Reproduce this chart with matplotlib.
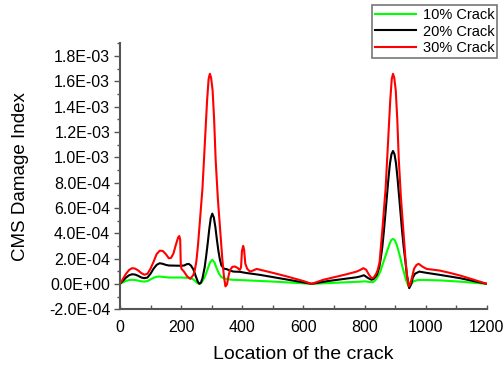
import matplotlib
matplotlib.use("Agg")
import matplotlib.pyplot as plt
from matplotlib.ticker import MultipleLocator, FuncFormatter

plt.rcParams['font.family'] = ['Liberation Sans', 'DejaVu Sans']

# 10% crack
x_10 = [0, 10, 20, 30, 40, 50, 60, 70, 80, 90, 100, 110, 120, 130, 140, 160, 200, 220,
        237, 245, 252, 260, 266, 272, 280, 288, 295, 302, 309, 316, 324, 331, 340, 353,
        370, 413, 500, 580, 627, 700, 785, 800, 815, 828, 836, 844, 852, 860, 867, 874,
        881, 887, 893, 899, 905, 911, 917, 923, 930, 937, 945, 952, 960, 975, 990, 1050,
        1120, 1200]
y_10 = [0, 1.2e-5, 2.3e-5, 3.0e-5, 3.2e-5, 3.0e-5, 2.5e-5, 2.0e-5, 1.8e-5, 2.2e-5, 3.5e-5,
        4.8e-5, 5.6e-5, 5.8e-5, 5.5e-5, 5.0e-5, 5.0e-5, 4.8e-5, 4.0e-5, 2.5e-5, 8e-6, 0,
        8e-6, 3.0e-5, 7.0e-5, 1.25e-4, 1.7e-4, 1.9e-4, 1.7e-4, 1.25e-4, 8.0e-5, 5.5e-5,
        4.3e-5, 3.6e-5, 3.2e-5, 2.8e-5, 1.8e-5, 7e-6, 0, 8e-6, 1.7e-5, 2.0e-5, 1.5e-5,
        1.3e-5, 3.0e-5, 6.0e-5, 1.0e-4, 1.6e-4, 2.1e-4, 2.6e-4, 3.1e-4, 3.45e-4, 3.55e-4,
        3.45e-4, 3.1e-4, 2.6e-4, 2.05e-4, 1.4e-4, 8.0e-5, 2.0e-5, -2.5e-5, -5e-6, 2.0e-5,
        3.0e-5, 3.1e-5, 2.7e-5, 1.6e-5, 0]

# 20% crack
x_20 = [0, 10, 20, 30, 40, 50, 60, 70, 80, 90, 100, 110, 120, 130, 140, 150, 160, 180,
        200, 210, 218, 225, 232, 240, 248, 255, 260, 265, 270, 277, 282, 287, 292, 297,
        302, 307, 312, 317, 322, 327, 332, 340, 349, 360, 371, 392, 413, 458, 520, 580,
        627, 680, 730, 774, 785, 798, 812, 823, 830, 840, 848, 853, 858, 863, 868, 873,
        878, 883, 888, 893, 898, 903, 908, 913, 918, 923, 928, 933, 938, 946, 952, 958,
        965, 979, 1000, 1046, 1112, 1160, 1200]
y_20 = [0, 2.5e-5, 5.0e-5, 6.8e-5, 7.6e-5, 7.3e-5, 6.3e-5, 5.0e-5, 4.5e-5, 5.0e-5, 8.0e-5,
        1.2e-4, 1.5e-4, 1.63e-4, 1.58e-4, 1.5e-4, 1.45e-4, 1.44e-4, 1.43e-4, 1.45e-4,
        1.55e-4, 1.58e-4, 1.45e-4, 1.15e-4, 6.0e-5, 1.5e-5, 0, 1.0e-5, 4.5e-5, 1.3e-4,
        2.2e-4, 3.2e-4, 4.3e-4, 5.2e-4, 5.55e-4, 5.25e-4, 4.5e-4, 3.5e-4, 2.6e-4, 1.9e-4,
        1.45e-4, 1.2e-4, 1.16e-4, 1.05e-4, 9.7e-5, 9.5e-5, 8.6e-5, 7.1e-5, 4.5e-5, 2.0e-5,
        0, 2.2e-5, 3.8e-5, 5.2e-5, 5.8e-5, 6.8e-5, 4.5e-5, 3.2e-5, 4.0e-5, 7.0e-5, 1.3e-4,
        2.0e-4, 2.9e-4, 4.1e-4, 5.5e-4, 6.9e-4, 8.3e-4, 9.5e-4, 1.024e-3, 1.05e-3,
        1.024e-3, 9.5e-4, 8.3e-4, 6.9e-4, 5.5e-4, 4.1e-4, 2.9e-4, 1.9e-4, 8.0e-5, -3.4e-5,
        -5e-6, 5.0e-5, 8.0e-5, 9.7e-5, 8.8e-5, 7.1e-5, 4.5e-5, 2.0e-5, 0]

# 30% crack
x_30 = [0, 10, 20, 30, 40, 50, 60, 70, 80, 90, 100, 110, 120, 130, 140, 150, 160, 167,
        175, 183, 190, 194, 197, 199, 201, 210, 220, 230, 240, 245, 250, 255, 260, 270,
        280, 285, 290, 294, 298, 303, 308, 313, 320, 327, 335, 340, 345, 350, 355, 360,
        368, 376, 385, 392, 396, 399, 403, 406, 410, 416, 425, 435, 447, 500, 550, 600,
        627, 665, 700, 740, 774, 786, 796, 805, 815, 823, 830, 838, 843, 849, 859, 869,
        879, 884, 889, 893, 897, 902, 907, 912, 919, 926, 934, 939, 945, 950, 955, 962,
        970, 977, 990, 1003, 1046, 1080, 1112, 1150, 1200]
y_30 = [0, 4.0e-5, 8.0e-5, 1.1e-4, 1.24e-4, 1.2e-4, 1.05e-4, 8.5e-5, 7.2e-5, 8.0e-5,
        1.2e-4, 1.75e-4, 2.35e-4, 2.62e-4, 2.6e-4, 2.35e-4, 2.02e-4, 2.05e-4, 2.4e-4,
        3.1e-4, 3.65e-4, 3.78e-4, 3.5e-4, 1.5e-4, 1.2e-4, 9.5e-5, 5.8e-5, 4.0e-5, 7.0e-5,
        1.1e-4, 1.8e-4, 3.0e-4, 4.5e-4, 7.6e-4, 1.22e-3, 1.45e-3, 1.62e-3, 1.66e-3,
        1.63e-3, 1.53e-3, 1.3e-3, 9.8e-4, 6.8e-4, 4.5e-4, 1.9e-4, 6.0e-5, -2.0e-5, -5e-6,
        6.0e-5, 1.1e-4, 1.35e-4, 1.37e-4, 1.25e-4, 1.1e-4, 1.3e-4, 2.6e-4, 3.0e-4, 2.7e-4,
        1.6e-4, 1.2e-4, 9.7e-5, 1.05e-4, 1.18e-4, 8.7e-5, 5.6e-5, 2.2e-5, 0, 3.2e-5,
        5.2e-5, 7.5e-5, 9.7e-5, 1.1e-4, 1.24e-4, 1.12e-4, 7.0e-5, 4.5e-5, 5.0e-5, 8.0e-5,
        1.1e-4, 1.7e-4, 4.5e-4, 7.6e-4, 1.22e-3, 1.45e-3, 1.62e-3, 1.66e-3, 1.63e-3,
        1.53e-3, 1.3e-3, 9.8e-4, 6.8e-4, 4.5e-4, 1.9e-4, 6.0e-5, -2.0e-5, 0, 5.0e-5,
        1.2e-4, 1.5e-4, 1.58e-4, 1.35e-4, 1.18e-4, 1.05e-4, 8.6e-5, 6.6e-5, 3.8e-5, 0]

y_ticks = [-2e-4, 0, 2e-4, 4e-4, 6e-4, 8e-4, 1e-3, 1.2e-3, 1.4e-3, 1.6e-3, 1.8e-3]

fig = plt.figure(figsize=(5.04, 3.65), dpi=100)
ax = fig.add_axes([0.238, 0.153, 0.728, 0.728])

ax.plot(x_10, y_10, color='#00ff00', lw=1.5, label='10% Crack')
ax.plot(x_20, y_20, color='black', lw=1.5, label='20% Crack')
ax.plot(x_30, y_30, color='#ff0000', lw=1.5, label='30% Crack')

ax.set_xlim(0, 1200)
ax.set_ylim(-2e-4, 1.9e-3)
ax.set_xticks([0, 200, 400, 600, 800, 1000, 1200])
ax.xaxis.set_minor_locator(MultipleLocator(100))
ax.set_yticks(y_ticks)
ax.yaxis.set_minor_locator(MultipleLocator(1e-4))
ax.yaxis.set_major_formatter(FuncFormatter(lambda v, p: f"{v:.1E}"))

for s in ['top', 'right']:
    ax.spines[s].set_visible(False)
for s in ['left', 'bottom']:
    ax.spines[s].set_color('#555555')
    ax.spines[s].set_linewidth(1.5)

ax.tick_params(axis='y', which='major', direction='out', length=4, width=1, color='#555555',
               labelsize=11.5, pad=3)
ax.tick_params(axis='y', which='minor', direction='out', length=2.5, width=1, color='#555555')
ax.tick_params(axis='x', which='both', direction='in', length=3, width=1, color='#555555',
               labelsize=11.5, pad=8)

ax.set_xlabel('Location of the crack', fontsize=14, labelpad=8)
ax.set_ylabel('CMS Damage Index', fontsize=13.5, labelpad=14)

leg = fig.legend(loc='upper right', bbox_to_anchor=(0.987, 0.985), fontsize=10.5,
                 frameon=True, fancybox=False, edgecolor='#555555', borderpad=0.2,
                 labelspacing=0.15, handlelength=2.8, handletextpad=0.5, borderaxespad=0)
leg.get_frame().set_linewidth(1.2)

fig.savefig('out.png', dpi=100)
